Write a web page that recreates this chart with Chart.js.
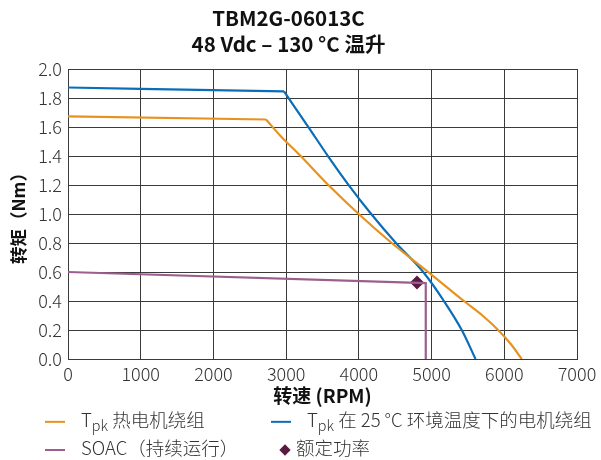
<!DOCTYPE html>
<html>
<head>
<meta charset="utf-8">
<script src="https://cdn.jsdelivr.net/npm/chart.js@4.4.1/dist/chart.umd.min.js"></script>
<style>
  body { margin: 0; background: #fff; }
  #wrap { position: relative; width: 601px; height: 460px; font-family: 'Noto Sans CJK SC', sans-serif; color: #333; }
  #legend { position: absolute; left: 0; top: 0; width: 601px; height: 460px; pointer-events: none; }
  .item { position: absolute; font-size: 18.5px; font-weight: 300; line-height: 22px; white-space: nowrap; transform: translateY(-50%); }
  .swatch { display: inline-block; width: 20px; height: 2.5px; vertical-align: middle; margin-right: 16px; }
  .diamond { display: inline-block; width: 8px; height: 8px; transform: rotate(45deg); vertical-align: middle; margin: 0 7px 0 2px; }
  sub { font-size: 0.78em; vertical-align: -0.3em; }
</style>
</head>
<body>
<div id="wrap">
  <canvas id="chart" width="601" height="460"></canvas>
  <div id="legend"></div>
</div>
<script>
// Tpk hot motor winding (flat up to the corner, then a smooth drop)
const hotSpeed = [0, 2724, 2916, 3200, 3581, 3998, 4452, 4955, 5445, 5700, 5915, 6095, 6240];
const hotTorque = [1.673, 1.652, 1.542, 1.4, 1.2, 1.0, 0.8, 0.6, 0.4, 0.3, 0.2, 0.1, 0];
const hotCorner = 1;

// Tpk motor winding at 25 °C ambient
const coldSpeed = [0, 1000, 2971, 3306, 3575, 3860, 4170, 4510, 4885, 5170, 5415, 5605];
const coldTorque = [1.873, 1.864, 1.846, 1.6, 1.4, 1.2, 1.0, 0.8, 0.6, 0.4, 0.2, 0];
const coldCorner = 2;

// SOAC continuous operation
const soacSpeed = [0, 4920, 4920];
const soacTorque = [0.60, 0.524, 0];

// rated power point
const ratedSpeed = [4800];
const ratedTorque = [0.528];

const xTicks = [0, 1000, 2000, 3000, 4000, 5000, 6000, 7000];
const yTicks = [0, 0.2, 0.4, 0.6, 0.8, 1.0, 1.2, 1.4, 1.6, 1.8, 2.0];

const titleLines = ['TBM2G-06013C', '48 Vdc – 130 °C 温升'];

const FONT = "'Noto Sans CJK SC', sans-serif";

function toPoints(xs, ys) {
  return xs.map((x, i) => ({ x: x, y: ys[i] }));
}

const series = [
  { label: 'T<sub>pk</sub> 热电机绕组', color: '#E8921E', xs: hotSpeed, ys: hotTorque, corner: hotCorner, type: 'line' },
  { label: 'T<sub>pk</sub> 在 25 °C 环境温度下的电机绕组', color: '#0B6DB7', xs: coldSpeed, ys: coldTorque, corner: coldCorner, type: 'line' },
  { label: 'SOAC（持续运行）', color: '#9B5E8F', xs: soacSpeed, ys: soacTorque, type: 'line' },
  { label: '额定功率', color: '#5B1A42', xs: ratedSpeed, ys: ratedTorque, type: 'point' }
];

function lineSet(points, color, smooth) {
  return {
    data: points,
    showLine: true,
    borderColor: color,
    borderWidth: 2.2,
    pointRadius: 0,
    tension: 0,
    cubicInterpolationMode: smooth ? 'monotone' : 'default',
    fill: false
  };
}

const datasets = [];
series.forEach(s => {
  const pts = toPoints(s.xs, s.ys);
  if (s.type === 'point') {
    datasets.push({
      data: pts,
      showLine: false,
      pointStyle: 'rectRot',
      pointRadius: 7,
      pointBackgroundColor: s.color,
      pointBorderColor: s.color,
      pointBorderWidth: 0
    });
  } else if (s.corner !== undefined) {
    // straight flat part, then a smooth curve from the corner
    datasets.push(lineSet(pts.slice(0, s.corner + 1), s.color, false));
    datasets.push(lineSet(pts.slice(s.corner), s.color, true));
  } else {
    datasets.push(lineSet(pts, s.color, false));
  }
});

Chart.defaults.font.family = FONT;
Chart.defaults.color = '#333';

new Chart(document.getElementById('chart'), {
  type: 'scatter',
  data: { datasets: datasets },
  options: {
    responsive: false,
    animation: false,
    layout: { padding: { left: 0, right: 24, top: 0, bottom: 51 } },
    plugins: {
      legend: { display: false },
      tooltip: { enabled: false },
      title: {
        display: true,
        text: titleLines,
        color: '#111',
        font: { size: 20.5, weight: 'bold', lineHeight: 1.27 },
        padding: { top: 5, bottom: 12 }
      }
    },
    scales: {
      x: {
        type: 'linear',
        min: 0,
        max: 7000,
        afterBuildTicks: axis => { axis.ticks = xTicks.map(v => ({ value: v })); },
        afterFit: axis => { axis.height = 50; },
        grid: { color: '#3a3a3a', lineWidth: 1, drawTicks: false },
        border: { color: '#3a3a3a', width: 1 },
        ticks: { padding: 4, font: { size: 18, weight: 300 }, color: '#333', callback: v => String(v) },
        title: {
          display: true,
          text: '转速 (RPM)',
          color: '#111',
          font: { size: 19, weight: 'bold' },
          padding: { top: 0, bottom: 2 }
        }
      },
      y: {
        type: 'linear',
        min: 0,
        max: 2,
        afterBuildTicks: axis => { axis.ticks = yTicks.map(v => ({ value: v })); },
        afterFit: axis => { axis.width = 68; },
        grid: { color: '#3a3a3a', lineWidth: 1, drawTicks: false },
        border: { color: '#3a3a3a', width: 1 },
        ticks: { padding: 6, font: { size: 18, weight: 300 }, color: '#333', callback: v => v.toFixed(1) },
        title: {
          display: true,
          text: '转矩（Nm）',
          color: '#111',
          font: { size: 17.5, weight: 'bold' },
          padding: { top: 8, bottom: 0 }
        }
      }
    }
  }
});

// legend below the plot, two columns by two rows
const legendSlots = [
  { left: 45, top: 422 },
  { left: 271, top: 422 },
  { left: 45, top: 447 },
  { left: 279, top: 447 }
];
const legendEl = document.getElementById('legend');
series.forEach((s, i) => {
  const item = document.createElement('div');
  item.className = 'item';
  item.style.left = legendSlots[i].left + 'px';
  item.style.top = legendSlots[i].top + 'px';
  const mark = s.type === 'point'
    ? `<span class="diamond" style="background:${s.color}"></span>`
    : `<span class="swatch" style="background:${s.color}"></span>`;
  item.innerHTML = mark + s.label;
  legendEl.appendChild(item);
});
</script>
</body>
</html>
